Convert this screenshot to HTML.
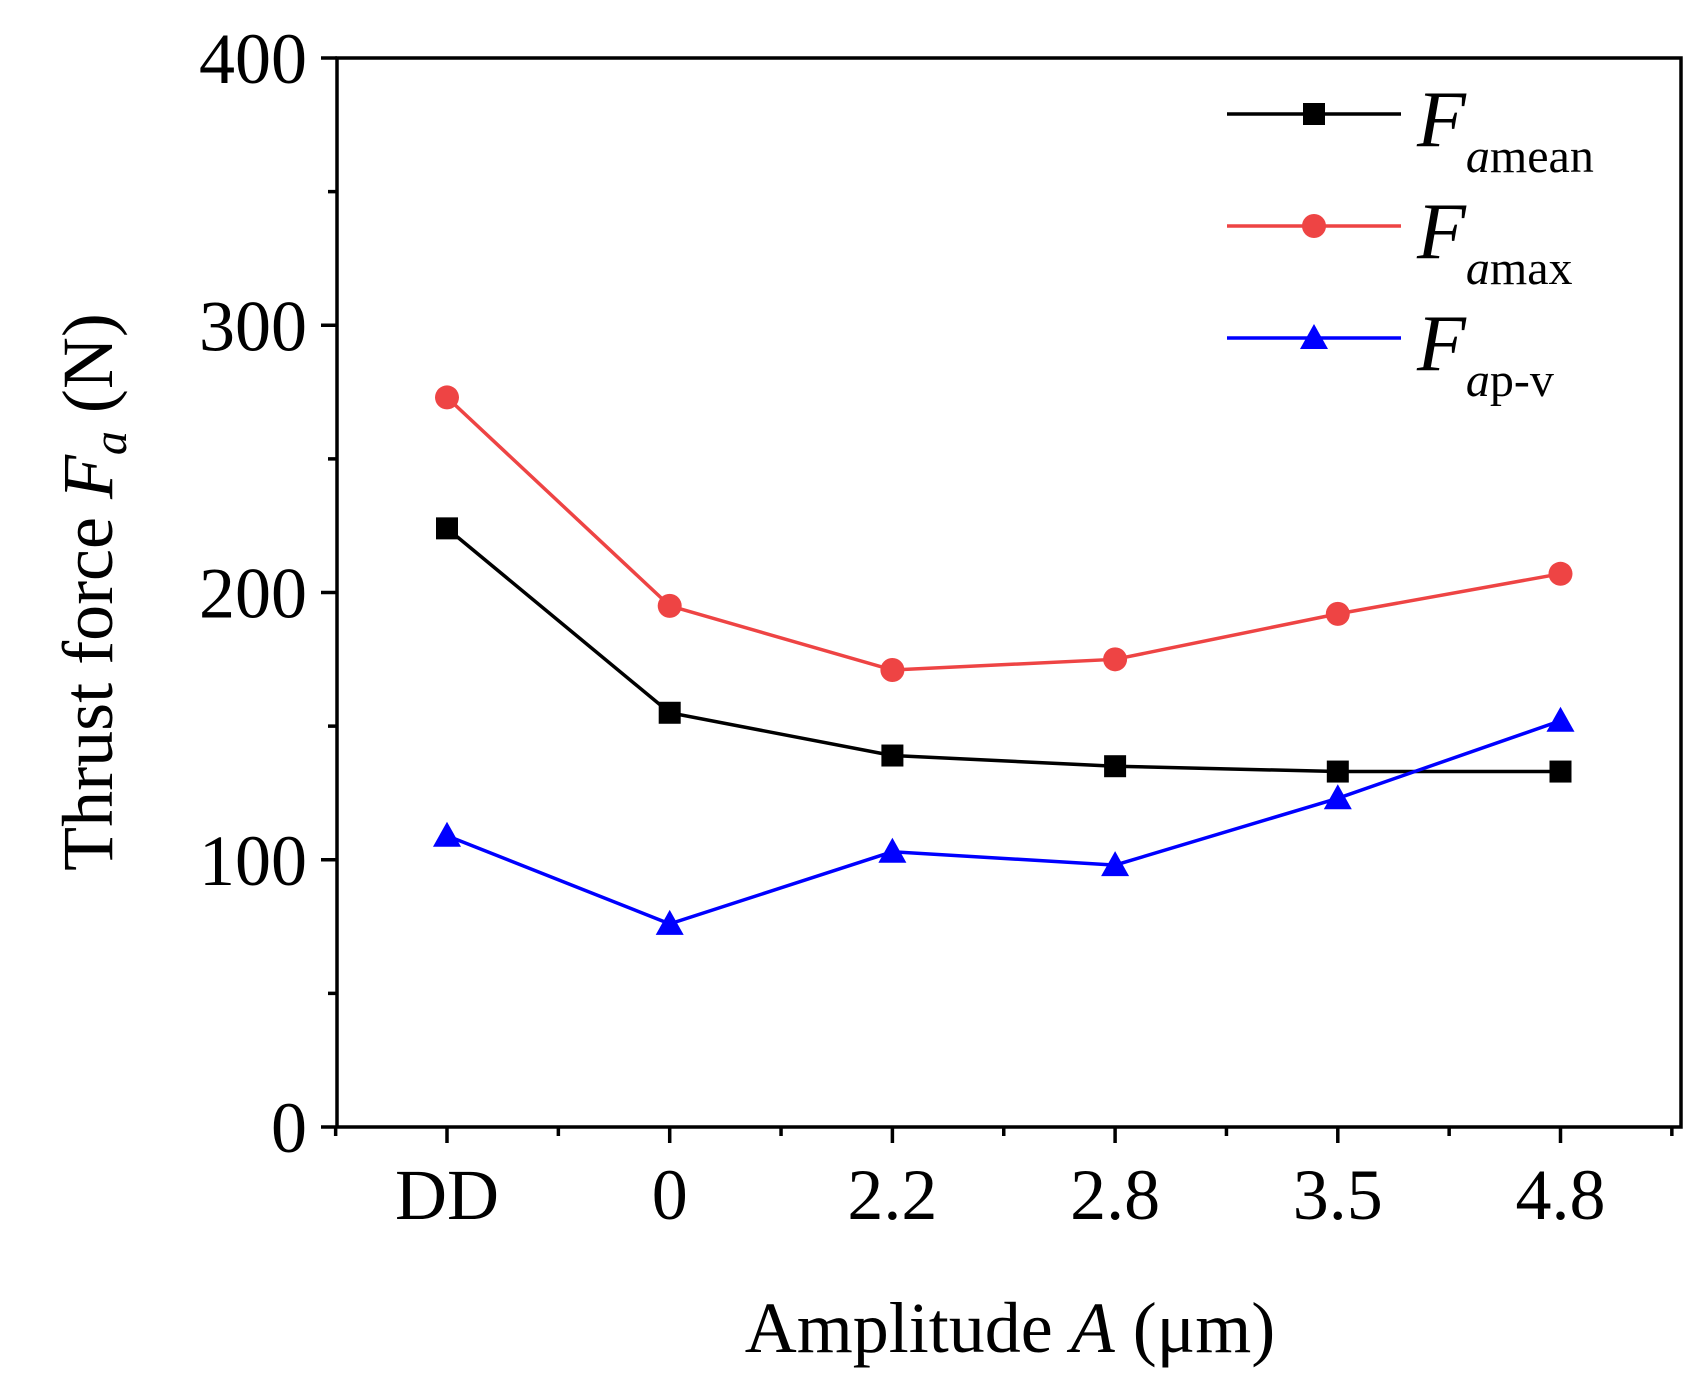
<!DOCTYPE html>
<html><head><meta charset="utf-8"><style>
html,body{margin:0;padding:0;background:#fff;}
svg{display:block;font-family:"Liberation Serif",serif;}
</style></head><body>
<svg id="chart" width="1694" height="1376" viewBox="0 0 1694 1376">
<g id="axes"></g>
<g id="series"></g>
<g id="legend"></g>
<text transform="translate(112,592) rotate(-90)" text-anchor="middle" font-size="72">Thrust force <tspan font-style="italic">F</tspan><tspan font-style="italic" font-size="48" dy="14">a</tspan><tspan dy="-14"> (N)</tspan></text>
<text x="1010" y="1352" text-anchor="middle" font-size="72">Amplitude <tspan font-style="italic">A</tspan> (μm)</text>
</svg>
<script>
const categories = ["DD","0","2.2","2.8","3.5","4.8"];
const meanValues = [224,155,139,135,133,133];
const maxValues = [273,195,171,175,192,207];
const pvValues = [109,76,103,98,123,152];
const yTicks = [0,100,200,300,400];

const NS="http://www.w3.org/2000/svg";
const L=337,R=1681,T=58,B=1127;
const x0=447,dx=222.7;
function xs(i){return x0+i*dx;}
function ys(v){return B-(v/400)*(B-T);}
function mk(tag,attrs,parent){const e=document.createElementNS(NS,tag);for(const k in attrs)e.setAttribute(k,attrs[k]);parent.appendChild(e);return e;}
const axes=document.getElementById('axes');
const frame=mk('rect',{x:L,y:T,width:R-L,height:B-T,fill:'none',stroke:'#000','stroke-width':3.5},axes);


yTicks.forEach(v=>{
  const t=mk('line',{x1:L-16,x2:L,y1:ys(v),y2:ys(v),stroke:'#000','stroke-width':3.5},axes);
  
  
  const lb=mk('text',{x:L-30,y:ys(v)+25,'text-anchor':'end','font-size':72},axes);
  lb.textContent=v;
  
  
  if(v<400){
    const m=mk('line',{x1:L-9,x2:L,y1:ys(v+50),y2:ys(v+50),stroke:'#000','stroke-width':3.5},axes);
    
    
  }
});
categories.forEach((c,i)=>{
  const t=mk('line',{x1:xs(i),x2:xs(i),y1:B,y2:B+16,stroke:'#000','stroke-width':3.5},axes);
  
  
  const lb=mk('text',{x:xs(i),y:B+92,'text-anchor':'middle','font-size':72},axes);
  lb.textContent=c;
  
  
});
for(let i=-0.5;i<categories.length;i+=1){
  const m=mk('line',{x1:xs(i),x2:xs(i),y1:B,y2:B+9,stroke:'#000','stroke-width':3.5},axes);
  
  
}
const series=document.getElementById('series');
function marker(shape,cx,cy,color,parent){
  let e;
  if(shape==='square') e=mk('rect',{x:cx-11,y:cy-11,width:22,height:22,fill:color},parent);
  else if(shape==='circle') e=mk('circle',{cx:cx,cy:cy,r:12,fill:color},parent);
  else e=mk('polygon',{points:`${cx},${cy-14} ${cx-14},${cy+11} ${cx+14},${cy+11}`,fill:color},parent);
  return e;
}
function drawSeries(vals,color,shape,name){
  const g=mk('g',{},series);
  
  
  const p=mk('polyline',{points:vals.map((v,i)=>xs(i)+','+ys(v)).join(' '),fill:'none',stroke:color,'stroke-width':3.5},g);
  
  
  vals.forEach((v,i)=>{
    const m=marker(shape,xs(i),ys(v),color,g);
    
    
  });
}
drawSeries(maxValues,'#ee4444','circle','series-famax');
drawSeries(meanValues,'#000000','square','series-famean');
drawSeries(pvValues,'#0000ff','triangle','series-fapv');
const legend=document.getElementById('legend');
[['#000000','square','mean',114],['#ee4444','circle','max',226],['#0000ff','triangle','p-v',338]].forEach(([c,s,sub,y])=>{
  const g=mk('g',{},legend);
  
  
  mk('line',{x1:1227,x2:1401,y1:y,y2:y,stroke:c,'stroke-width':3.5},g);
  marker(s,1314,y,c,g);
  const t=mk('text',{x:1417,y:y+32,'font-size':80},g);
  t.innerHTML='<tspan font-style="italic">F</tspan><tspan font-size="48" dy="26"><tspan font-style="italic">a</tspan>'+sub+'</tspan>';
});
</script>
</body></html>
